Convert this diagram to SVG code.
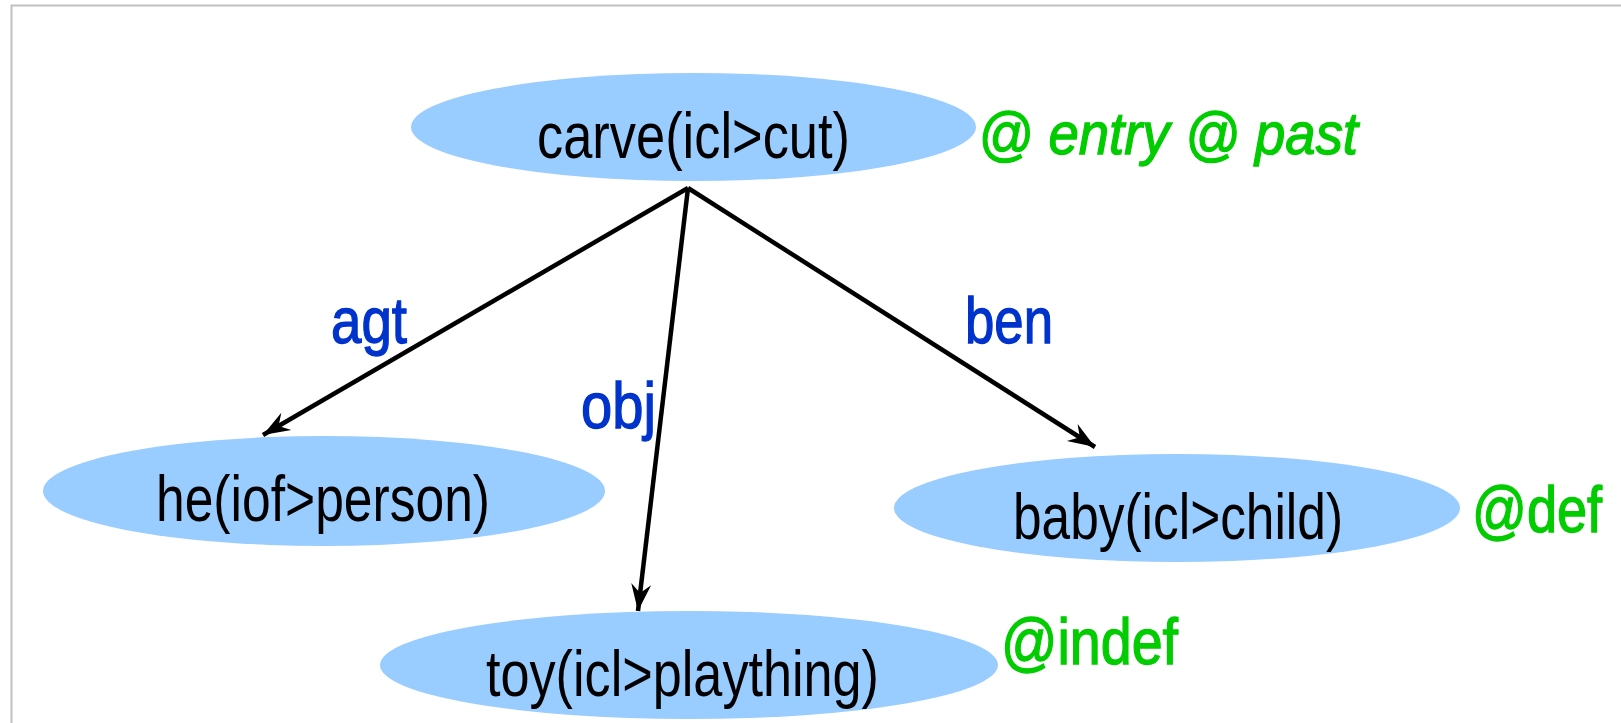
<svg xmlns="http://www.w3.org/2000/svg" width="1621" height="723" viewBox="0 0 1621 723">
  <style>
    .node { fill: #99ccff; }
    .nlabel { font-family: "Liberation Sans Narrow", "Liberation Sans", Arial, sans-serif; font-size: 64px; fill: #000000; }
    .rel { font-family: "Liberation Sans Narrow", "Liberation Sans", Arial, sans-serif; font-size: 64px; fill: #0033cc; stroke: #0033cc; stroke-width: 1.3px; }
    .attr { font-family: "Liberation Sans Narrow", "Liberation Sans", Arial, sans-serif; font-size: 64px; fill: #00cc00; stroke: #00cc00; stroke-width: 1.3px; }
    .attr-it { font-family: "Liberation Sans", Arial, sans-serif; font-size: 60px; font-style: italic; fill: #00cc00; stroke: #00cc00; stroke-width: 1.3px; }
    .edge { stroke: #000000; stroke-width: 4.5; fill: none; marker-end: url(#arrow); }
    .frame { stroke: #c0c0c0; stroke-width: 2; fill: none; }
  </style>
  <defs>
    <marker id="arrow" markerUnits="userSpaceOnUse" viewBox="-30 -12 32 24" refX="0" refY="0" markerWidth="32" markerHeight="24" orient="auto">
      <path d="M0,0 L-27,-10 L-18,0 L-27,10 Z" fill="#000000"/>
    </marker>
  </defs>

  <rect width="1621" height="723" fill="#ffffff"/>

  <!-- frame -->
  <path class="frame" d="M11.5,723 L11.5,5.5 L1621,5.5"/>

  <!-- connectors -->
  <g id="edges">
    <line class="edge" x1="688" y1="188" x2="263" y2="435"/>
    <line class="edge" x1="688" y1="188" x2="638" y2="611"/>
    <line class="edge" x1="688" y1="188" x2="1095" y2="447"/>
    <text class="rel" x="331" y="343" textLength="76" lengthAdjust="spacingAndGlyphs">agt</text>
    <text class="rel" x="581" y="428" font-size="60" textLength="75" lengthAdjust="spacingAndGlyphs">obj</text>
    <text class="rel" x="965" y="343" textLength="88" lengthAdjust="spacingAndGlyphs">ben</text>
  </g>

  <!-- carve node -->
  <g id="carve">
    <ellipse class="node" cx="693.5" cy="127" rx="282.5" ry="54"/>
    <text class="nlabel" x="537" y="158" textLength="313" lengthAdjust="spacingAndGlyphs">carve(icl&gt;cut)</text>
    <text class="attr-it" x="978" y="154" textLength="380" lengthAdjust="spacingAndGlyphs">@ entry @ past</text>
  </g>

  <!-- he node -->
  <g id="he">
    <ellipse class="node" cx="324" cy="491" rx="281" ry="55"/>
    <text class="nlabel" x="156" y="521" textLength="334" lengthAdjust="spacingAndGlyphs">he(iof&gt;person)</text>
  </g>

  <!-- baby node -->
  <g id="baby">
    <ellipse class="node" cx="1177" cy="508" rx="283" ry="54"/>
    <text class="nlabel" x="1013" y="539" textLength="330" lengthAdjust="spacingAndGlyphs">baby(icl&gt;child)</text>
    <g transform="translate(1472,532) scale(0.845,1)">
      <text class="attr" x="0" y="0" font-size="62">@def</text>
    </g>
  </g>

  <!-- toy node -->
  <g id="toy">
    <ellipse class="node" cx="689" cy="665" rx="309" ry="54"/>
    <text class="nlabel" x="486" y="696" textLength="393" lengthAdjust="spacingAndGlyphs">toy(icl&gt;plaything)</text>
    <text class="attr" x="1001" y="664" textLength="177" lengthAdjust="spacingAndGlyphs">@indef</text>
  </g>
</svg>
